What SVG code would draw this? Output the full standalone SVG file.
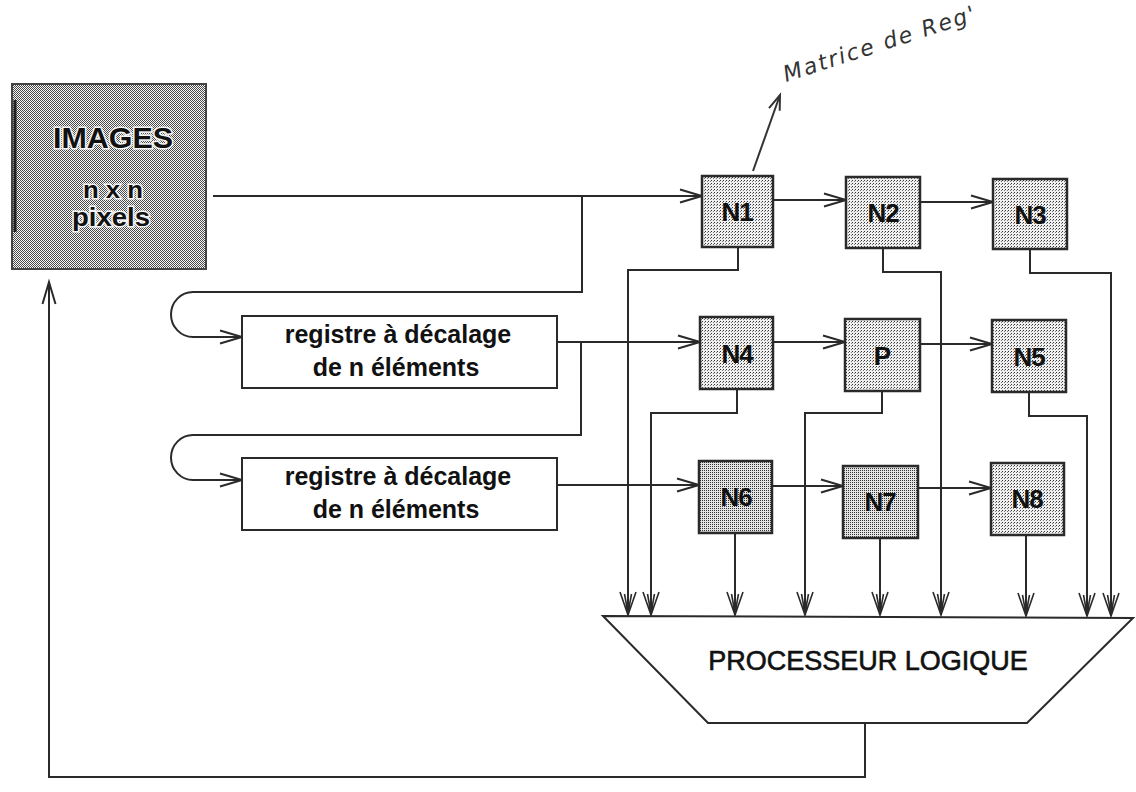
<svg xmlns="http://www.w3.org/2000/svg" width="1136" height="792" viewBox="0 0 1136 792">
<defs>
  <pattern id="dither" x="0" y="0" width="2" height="2" patternUnits="userSpaceOnUse">
    <rect width="2" height="2" fill="#f6f6f6"/>
    <rect x="0" y="0" width="1" height="1" fill="#4a4a4a"/>
    <rect x="1" y="1" width="1" height="1" fill="#4a4a4a"/>
  </pattern>
  <pattern id="stipple" x="0" y="0" width="3" height="3" patternUnits="userSpaceOnUse">
    <rect width="3" height="3" fill="#f0f0f0"/>
    <rect x="0" y="0" width="1" height="1" fill="#333"/>
    <rect x="2" y="1" width="1" height="1" fill="#777"/>
  </pattern>
  <pattern id="stippleDark" x="0" y="0" width="2" height="2" patternUnits="userSpaceOnUse">
    <rect width="2" height="2" fill="#e4e4e4"/>
    <rect x="0" y="0" width="1" height="1" fill="#333"/>
  </pattern>
  <marker id="arr" markerUnits="userSpaceOnUse" markerWidth="30" markerHeight="20" viewBox="-24 -10 30 20" refX="0" refY="0" orient="auto">
    <path d="M-22,-6.5 L0,0 L-22,6.5" fill="none" stroke="#2a2a2a" stroke-width="2"/>
  </marker>
  <marker id="dbl" markerUnits="userSpaceOnUse" markerWidth="30" markerHeight="24" viewBox="-26 -12 30 24" refX="0" refY="0" orient="auto">
    <path d="M-23,-8 L0,0 L-23,8 M-21,-3.5 L-2,0 L-21,3.5" fill="none" stroke="#2a2a2a" stroke-width="1.6"/>
  </marker>
  <marker id="pen" markerUnits="userSpaceOnUse" markerWidth="24" markerHeight="20" viewBox="-20 -10 24 20" refX="0" refY="0" orient="auto">
    <path d="M-16,-6 L0,0 L-15,5" fill="none" stroke="#333" stroke-width="2"/>
  </marker>
</defs>
<style>
  .ln { fill: none; stroke: #2a2a2a; stroke-width: 2; stroke-linejoin: miter; }
  .box { stroke: #2a2a2a; stroke-width: 2; }
  .node { fill: url(#stipple); stroke: #2a2a2a; stroke-width: 2.5; }
  .nodeD { fill: url(#stippleDark); stroke: #2a2a2a; stroke-width: 2.5; }
  .lbl { font-family: "Liberation Sans", Arial, sans-serif; font-weight: bold; font-size: 26px; fill: #111; text-anchor: middle; letter-spacing: -1px; }
  .reg { font-family: "Liberation Sans", Arial, sans-serif; font-weight: bold; font-size: 25px; fill: #111; text-anchor: middle; }
  .img { font-family: "Liberation Sans", Arial, sans-serif; font-weight: bold; fill: #111; text-anchor: middle; stroke: #f4f4f4; stroke-width: 3; paint-order: stroke; }
  .proc { font-family: "Liberation Sans", Arial, sans-serif; font-size: 27px; fill: #111; text-anchor: middle; stroke: #111; stroke-width: 0.6; }
  .hand { font-family: "DejaVu Sans", sans-serif; font-style: italic; font-size: 22px; fill: #333; letter-spacing: 2px; }
</style>

<g id="connectors">
  <path class="ln" d="M213,196 H702" marker-end="url(#arr)"/>
  <path class="ln" d="M582,196 V292 H193 A22,22.5 0 0 0 193,337 H242" marker-end="url(#arr)"/>
  <path class="ln" d="M557,342 H700" marker-end="url(#arr)"/>
  <path class="ln" d="M581,342 V435 H193 A22,22.5 0 0 0 193,480 H242" marker-end="url(#arr)"/>
  <path class="ln" d="M557,485 H699" marker-end="url(#arr)"/>

  <path class="ln" d="M773,200 H846" marker-end="url(#arr)"/>
  <path class="ln" d="M920,202 H993" marker-end="url(#arr)"/>
  <path class="ln" d="M773,342 H845" marker-end="url(#arr)"/>
  <path class="ln" d="M920,344 H992" marker-end="url(#arr)"/>
  <path class="ln" d="M772,486 H843" marker-end="url(#arr)"/>
  <path class="ln" d="M918,488 H991" marker-end="url(#arr)"/>

  <path class="ln" d="M738,247 V270 H628 V615" marker-end="url(#dbl)"/>
  <path class="ln" d="M883,248 V272 H941 V615" marker-end="url(#dbl)"/>
  <path class="ln" d="M1030,249 V273 H1111 V616" marker-end="url(#dbl)"/>
  <path class="ln" d="M737,389 V413 H651 V615" marker-end="url(#dbl)"/>
  <path class="ln" d="M882,391 V413 H805 V615" marker-end="url(#dbl)"/>
  <path class="ln" d="M1029,392 V416 H1087 V616" marker-end="url(#dbl)"/>
  <path class="ln" d="M735,533 V615" marker-end="url(#dbl)"/>
  <path class="ln" d="M880,538 V615" marker-end="url(#dbl)"/>
  <path class="ln" d="M1026,535 V616" marker-end="url(#dbl)"/>

  <path class="ln" d="M865,723 V777 H49 V282" marker-end="url(#arr)"/>
</g>

<g id="images">
  <rect x="12" y="84" width="194" height="185" fill="url(#dither)" stroke="#444" stroke-width="2"/>
  <line x1="15" y1="100" x2="15" y2="232" stroke="#222" stroke-width="3"/>
  <text class="img" x="113" y="148" font-size="30" textLength="120" lengthAdjust="spacingAndGlyphs">IMAGES</text>
  <text class="img" x="113" y="198" font-size="24" textLength="60" lengthAdjust="spacingAndGlyphs">n x n</text>
  <text class="img" x="111" y="226" font-size="25" textLength="78" lengthAdjust="spacingAndGlyphs">pixels</text>
</g>

<g id="reg1">
  <rect class="box" x="242" y="316" width="315" height="72" fill="#fff"/>
  <text class="reg" x="398" y="343">registre à décalage</text>
  <text class="reg" x="396" y="376">de n éléments</text>
</g>
<g id="reg2">
  <rect class="box" x="242" y="458" width="315" height="72" fill="#fff"/>
  <text class="reg" x="398" y="485">registre à décalage</text>
  <text class="reg" x="396" y="518">de n éléments</text>
</g>

<g id="n1"><rect class="node" x="702" y="176" width="71" height="71"/><text class="lbl" x="737" y="221">N1</text></g>
<g id="n2"><rect class="node" x="846" y="177" width="74" height="71"/><text class="lbl" x="883" y="222">N2</text></g>
<g id="n3"><rect class="node" x="993" y="179" width="74" height="70"/><text class="lbl" x="1030" y="224">N3</text></g>
<g id="n4"><rect class="node" x="700" y="317" width="73" height="72"/><text class="lbl" x="737" y="363">N4</text></g>
<g id="p"><rect class="node" x="845" y="319" width="75" height="72"/><text class="lbl" x="882" y="365">P</text></g>
<g id="n5"><rect class="node" x="992" y="320" width="74" height="72"/><text class="lbl" x="1029" y="366">N5</text></g>
<g id="n6"><rect class="nodeD" x="699" y="461" width="73" height="72"/><text class="lbl" x="736" y="506">N6</text></g>
<g id="n7"><rect class="nodeD" x="843" y="466" width="75" height="72"/><text class="lbl" x="880" y="511">N7</text></g>
<g id="n8"><rect class="node" x="991" y="463" width="73" height="72"/><text class="lbl" x="1027" y="508">N8</text></g>

<g id="processeur">
  <polygon points="603,616 1133,618 1027,723 708,723" fill="#fff" stroke="#2a2a2a" stroke-width="2"/>
  <text class="proc" x="868" y="670">PROCESSEUR LOGIQUE</text>
</g>

<g id="annotation">
  <path d="M753,171 L780,95" fill="none" stroke="#333" stroke-width="2" marker-end="url(#pen)"/>
  <text class="hand" x="786" y="82" transform="rotate(-18 786 82)">Matrice de Reg'</text>
</g>
</svg>
